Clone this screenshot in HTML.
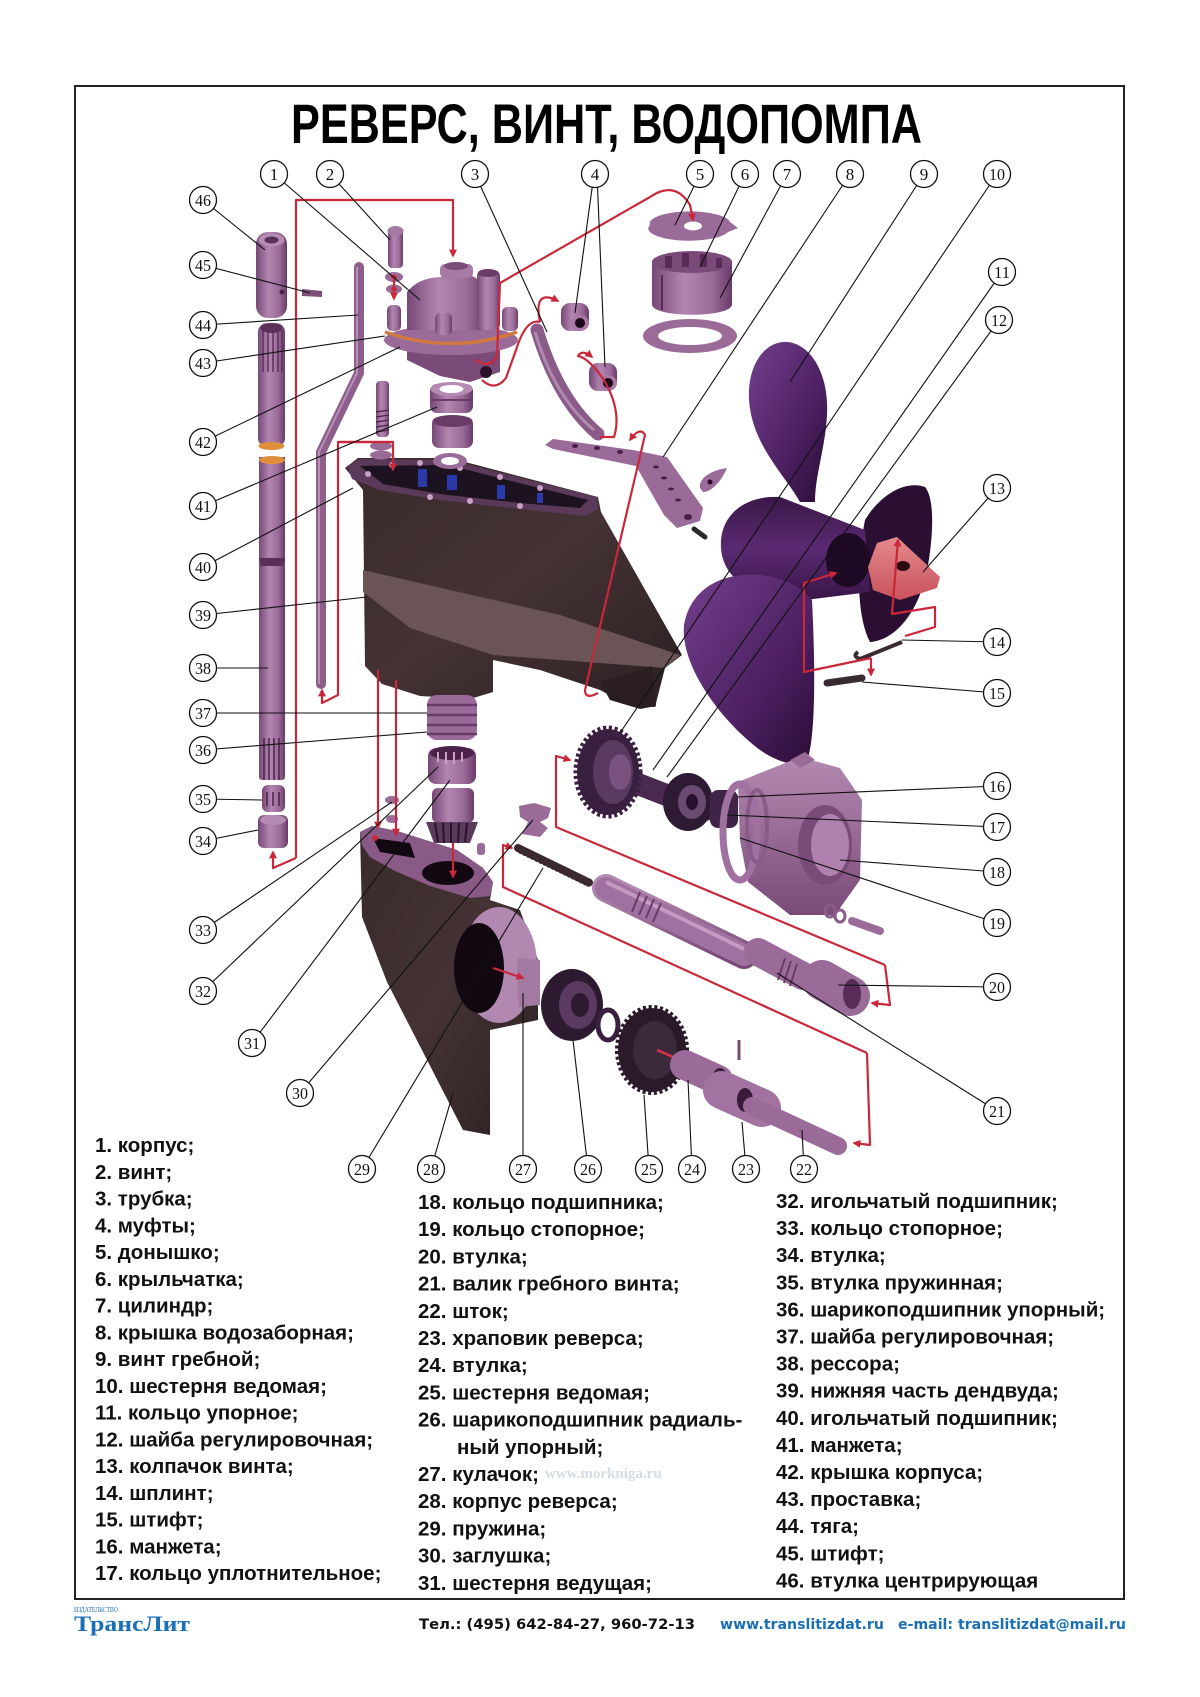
<!DOCTYPE html>
<html><head><meta charset="utf-8">
<style>
html,body{margin:0;padding:0;background:#fff;}
svg{display:block;}
.l{stroke:#111;stroke-width:1.1;fill:none;}
.r{stroke:#c8283a;stroke-width:2.2;fill:none;stroke-linejoin:round;}
.t{font-family:"Liberation Sans",Arial,"Noto Sans CJK SC",sans-serif;font-weight:bold;font-size:20.5px;fill:#111;}
.n{font-family:"Liberation Serif","DejaVu Serif",serif;font-size:17px;fill:#111;text-anchor:middle;}
.c{fill:#fff;stroke:#111;stroke-width:1.3;}
.m{fill:url(#gM);}
</style></head><body>
<svg width="1200" height="1697" viewBox="0 0 1200 1697" xmlns="http://www.w3.org/2000/svg">
<defs>
<marker id="a" viewBox="0 0 10 10" refX="8" refY="5" markerWidth="8" markerHeight="8" markerUnits="userSpaceOnUse" orient="auto"><path d="M0,0 L10,5 L0,10 z" fill="#c8283a"/></marker>
<linearGradient id="gM" x1="0" y1="0" x2="1" y2="0"><stop offset="0" stop-color="#774777"/><stop offset="0.4" stop-color="#b386b1"/><stop offset="0.75" stop-color="#9a6a98"/><stop offset="1" stop-color="#6a3a68"/></linearGradient>
<linearGradient id="gMv" x1="0" y1="0" x2="0" y2="1"><stop offset="0" stop-color="#b38ab1"/><stop offset="1" stop-color="#7a4a78"/></linearGradient>
<linearGradient id="gD" x1="0" y1="0" x2="1" y2="1"><stop offset="0" stop-color="#3a2a2c"/><stop offset="0.5" stop-color="#443234"/><stop offset="1" stop-color="#2c2022"/></linearGradient>
<linearGradient id="gP" x1="0" y1="0" x2="1" y2="1"><stop offset="0" stop-color="#74408e"/><stop offset="0.6" stop-color="#4c2062"/><stop offset="1" stop-color="#2a0c36"/></linearGradient>
<linearGradient id="gP2" x1="0" y1="0" x2="0" y2="1"><stop offset="0" stop-color="#3a1848"/><stop offset="0.5" stop-color="#5a2a72"/><stop offset="1" stop-color="#3a1548"/></linearGradient>
<linearGradient id="gC" x1="0" y1="0" x2="0" y2="1"><stop offset="0" stop-color="#e58a8c"/><stop offset="1" stop-color="#c8525e"/></linearGradient>
</defs>
<rect width="1200" height="1697" fill="#fff"/>
<rect x="75" y="86" width="1049" height="1513" fill="none" stroke="#222" stroke-width="2"/>

<text x="291" y="143" font-family="Liberation Sans, Arial, sans-serif" font-weight="bold" font-size="56" textLength="631" lengthAdjust="spacingAndGlyphs" fill="#000">РЕВЕРС, ВИНТ, ВОДОПОМПА</text>

<!-- ===== PROPELLER ===== -->
<path d="M865,520 C880,495 905,480 925,487 C936,500 933,545 925,580 C915,615 895,640 870,642 C858,620 855,570 865,520 Z" fill="#2a0f33"/>
<path d="M800,502 C785,475 752,445 749,400 C747,365 765,340 788,342 C812,345 829,375 827,415 C825,450 815,475 815,502 Z" fill="url(#gP)"/>
<path d="M780,497 L865,530 L870,592 L805,600 C760,602 723,582 721,548 C719,515 745,495 780,497 Z" fill="url(#gP2)"/>
<path d="M760,575 C720,572 690,590 684,625 C680,665 720,720 760,750 C780,764 800,768 808,758 C816,730 815,660 812,600 C800,585 780,577 760,575 Z" fill="url(#gP)"/>
<ellipse cx="848" cy="560" rx="22" ry="27" fill="#1e0a24"/>
<path d="M877,543 L897,537 L940,577 L937,588 L900,600 L873,590 L868,567 Z" fill="url(#gC)"/>
<ellipse cx="903" cy="566" rx="7" ry="5" fill="#2a0a10"/>
<path d="M858,652 Q852,656 860,659 L902,642" stroke="#3a2a34" stroke-width="4" fill="none"/>
<path d="M827,683 L862,678" stroke="#3a2a34" stroke-width="7" stroke-linecap="round"/>

<!-- ===== HOUSING 39 ===== -->
<path d="M345,468 L358,458 L450,458 L598,497 L601,512 L682,655 L665,668 L655,707 L630,706 L600,690 L540,670 L493,660 L493,692 L470,699 L420,696 L382,684 L365,666 L363,490 Z" fill="url(#gD)"/>
<path d="M363,570 L450,590 L560,615 L680,655 L665,668 L493,655 L410,628 L363,592 Z" fill="#6a5456"/>
<path d="M600,682 L652,666 L656,706 L640,709 L610,700 Z" fill="#2a1e20"/>
<path d="M347,466 L360,459 L450,460 L520,478 L597,497 L598,509 L585,516 L520,509 L440,500 L380,490 L352,479 Z" fill="#5a3a58"/>
<path d="M360,466 L448,465 L515,482 L588,500 L580,508 L520,503 L440,494 L383,484 Z" fill="#1c1220"/>
<rect x="418" y="469" width="9" height="18" fill="#2a3aa8"/>
<rect x="447" y="475" width="10" height="15" fill="#2a3aa8"/>
<rect x="497" y="485" width="8" height="14" fill="#2a3aa8"/>
<rect x="537" y="493" width="6" height="10" fill="#2a3aa8"/>
<g fill="#c9a0c6"><circle cx="368" cy="474" r="3"/><circle cx="392" cy="465" r="3"/><circle cx="420" cy="463" r="3"/><circle cx="460" cy="468" r="3"/><circle cx="500" cy="477" r="3"/><circle cx="540" cy="488" r="3"/><circle cx="430" cy="497" r="3"/><circle cx="470" cy="501" r="3"/><circle cx="520" cy="506" r="3"/></g>

<!-- ===== LEFT COLUMN ===== -->
<rect x="256" y="232" width="31" height="86" rx="12" class="m"/>
<ellipse cx="271.5" cy="240" rx="13" ry="6.5" fill="#b58ab3"/>
<ellipse cx="271.5" cy="240" rx="7" ry="3.5" fill="#5a3058"/>
<circle cx="282" cy="292" r="2.5" fill="#4a2048"/>
<path d="M302,289 L322,291 L322,297 L302,296 Z" fill="#7e4e7c"/>
<path d="M359,267 L359,373 L321,452 L321,684" stroke="#8e5e8c" stroke-width="10" fill="none" stroke-linecap="round" stroke-linejoin="round"/>
<path d="M357,267 L357,373 L319,452 L319,684" stroke="#b590b3" stroke-width="2" fill="none"/>
<rect x="258" y="323" width="27" height="124" rx="9" class="m"/>
<g stroke="#5a3058" stroke-width="1.5"><line x1="263" y1="330" x2="263" y2="372"/><line x1="268" y1="330" x2="268" y2="372"/><line x1="273" y1="330" x2="273" y2="372"/><line x1="278" y1="330" x2="278" y2="372"/><line x1="282" y1="330" x2="282" y2="372"/></g>
<ellipse cx="271.5" cy="328" rx="11" ry="5" fill="#5a3058"/>
<ellipse cx="271.5" cy="446" rx="13" ry="4" fill="#e0903a"/>
<rect x="259" y="457" width="26" height="282" class="m"/>
<ellipse cx="272" cy="460" rx="13" ry="4" fill="#e0903a"/>
<path d="M259,558 L285,558 L283,566 L261,566 Z" fill="#5a3058"/>
<rect x="259" y="737" width="26" height="43" rx="3" class="m"/>
<g stroke="#4a2248" stroke-width="1.5"><line x1="264" y1="738" x2="264" y2="780"/><line x1="269" y1="738" x2="269" y2="780"/><line x1="274" y1="738" x2="274" y2="780"/><line x1="279" y1="738" x2="279" y2="780"/></g>
<rect x="262" y="785" width="23" height="27" rx="6" class="m"/>
<g stroke="#4a2248" stroke-width="1.5"><line x1="267" y1="792" x2="267" y2="806"/><line x1="273" y1="792" x2="273" y2="806"/><line x1="279" y1="792" x2="279" y2="806"/></g>
<rect x="258" y="815" width="30" height="33" rx="6" class="m"/>
<ellipse cx="273" cy="820" rx="13" ry="5" fill="#b58ab3"/>

<!-- ===== PUMP 1 ===== -->
<path d="M407,347 L500,347 L500,372 L470,382 L440,376 L407,360 Z" fill="#7a4a78"/>
<ellipse cx="486" cy="372" rx="6" ry="6" fill="#2a1028"/>
<ellipse cx="451" cy="340" rx="67" ry="15" fill="#9a6a98"/>
<path d="M385,332 Q451,355 517,332" stroke="#d07840" stroke-width="3.5" fill="none"/>
<path d="M407,330 L407,292 Q418,278 440,277 L470,275 Q487,282 487,300 L487,330 Z" fill="url(#gM)"/>
<rect x="440" y="264" width="33" height="14" rx="5" fill="#a57aa3"/>
<ellipse cx="456" cy="266" rx="12" ry="4" fill="#7a4a78"/>
<rect x="477" y="270" width="23" height="60" rx="6" class="m"/>
<ellipse cx="488" cy="273" rx="10" ry="4" fill="#6a3a68"/>
<rect x="502" y="307" width="16" height="24" rx="5" class="m"/>
<rect x="387" y="305" width="14" height="26" rx="5" class="m"/>
<rect x="435" y="313" width="17" height="22" rx="5" class="m"/>
<rect x="388" y="228" width="15" height="40" rx="4" class="m"/>
<ellipse cx="395.5" cy="231" rx="8" ry="5" fill="#a57aa3"/>
<ellipse cx="394" cy="277" rx="9" ry="5" fill="#9a6a98"/><ellipse cx="394" cy="277" rx="3" ry="2" fill="#c8283a"/>
<ellipse cx="394" cy="289" rx="8" ry="4.5" fill="#9a6a98"/><ellipse cx="394" cy="289" rx="3" ry="2" fill="#c8283a"/>
<!-- 41/40 -->
<rect x="430" y="384" width="43" height="29" rx="7" class="m"/>
<ellipse cx="451.5" cy="389" rx="21" ry="7" fill="#b58ab3"/><ellipse cx="451.5" cy="389" rx="12" ry="4" fill="#fff"/>
<line x1="430" y1="400" x2="473" y2="400" stroke="#6a3a68" stroke-width="2"/>
<rect x="432" y="417" width="41" height="31" rx="7" class="m"/>
<ellipse cx="452.5" cy="421" rx="20" ry="6" fill="#6a3a68"/>
<ellipse cx="450" cy="461" rx="17" ry="8" fill="#9a6a98"/><ellipse cx="450" cy="461" rx="9" ry="4" fill="#fff"/>
<rect x="376" y="381" width="13" height="56" rx="4" class="m"/>
<g stroke="#4a2248" stroke-width="1.3"><line x1="376" y1="412" x2="389" y2="410"/><line x1="376" y1="417" x2="389" y2="415"/><line x1="376" y1="422" x2="389" y2="420"/><line x1="376" y1="427" x2="389" y2="425"/><line x1="376" y1="432" x2="389" y2="430"/></g>
<ellipse cx="381" cy="446" rx="11" ry="4.5" fill="#9a6a98"/><ellipse cx="381" cy="455" rx="11" ry="4.5" fill="#9a6a98"/>

<!-- tube 3 & mugs 4 -->
<path d="M537,330 Q558,400 598,434" stroke="#8a5a88" stroke-width="13" fill="none" stroke-linecap="round"/>
<path d="M535,332 Q555,398 594,430" stroke="#b08aae" stroke-width="3" fill="none"/>
<rect x="561" y="303" width="28" height="28" rx="9" class="m"/><ellipse cx="580" cy="323" rx="9" ry="8" fill="#a878a6"/><ellipse cx="580" cy="323" rx="5" ry="5" fill="#1a0a1a"/>
<rect x="589" y="363" width="28" height="28" rx="9" class="m"/><ellipse cx="608" cy="383" rx="9" ry="8" fill="#a878a6"/><ellipse cx="608" cy="383" rx="5" ry="5" fill="#1a0a1a"/>

<!-- 5,6,7 -->
<path d="M650,225 A40,12 0 0,1 730,222 L738,228 L728,232 A40,12 0 0,1 650,225 Z" fill="#9a6a98"/>
<ellipse cx="693" cy="226" rx="9" ry="4.5" fill="#fff"/>
<path d="M652,262 L652,305 C655,318 729,318 732,305 L732,262 Z" fill="url(#gM)"/>
<ellipse cx="692" cy="262" rx="40" ry="11" fill="#7a4a78"/>
<g fill="#5a2a58"><rect x="665" y="256" width="7" height="12"/><rect x="682" y="253" width="7" height="14"/><rect x="700" y="254" width="7" height="13"/><rect x="716" y="258" width="6" height="10"/></g>
<line x1="662" y1="275" x2="662" y2="310" stroke="#5a2a58" stroke-width="2"/>
<ellipse cx="690" cy="336" rx="47" ry="17" fill="#9a6a98"/><ellipse cx="690" cy="336" rx="32" ry="9" fill="#fff"/>

<!-- bracket 8 -->
<path d="M545,445 L553,439 L633,450 L667,457 L703,508 L700,521 L677,528 L664,515 L636,466 L553,449 Z" fill="#9a6a98"/>
<g fill="#4a1e48"><ellipse cx="575" cy="446" rx="3" ry="2"/><ellipse cx="597" cy="448" rx="3" ry="2"/><ellipse cx="620" cy="452" rx="3" ry="2"/><ellipse cx="656" cy="467" rx="3" ry="1.5"/><ellipse cx="664" cy="478" rx="3" ry="1.5"/><ellipse cx="671" cy="489" rx="3" ry="1.5"/><ellipse cx="678" cy="500" rx="3" ry="1.5"/><ellipse cx="688" cy="517" rx="4" ry="3"/></g>
<path d="M700,488 C698,478 712,470 727,468 C722,480 712,492 703,492 Z" fill="#9a6a98"/><circle cx="710" cy="482" r="2.5" fill="#2a0a28"/>
<path d="M694,529 L705,537" stroke="#2a2a2a" stroke-width="5" stroke-linecap="round"/>

<!-- ===== LOWER MIDDLE GEARS ===== -->
<rect x="427" y="695" width="50" height="45" rx="10" fill="#9a6a98"/>
<g stroke="#6a3a68" stroke-width="2.5"><line x1="427" y1="705" x2="477" y2="705"/><line x1="427" y1="715" x2="477" y2="715"/><line x1="427" y1="725" x2="477" y2="725"/><line x1="427" y1="734" x2="477" y2="734"/></g>
<rect x="428" y="748" width="48" height="36" rx="8" class="m"/>
<ellipse cx="452" cy="753" rx="22" ry="7" fill="#4a2248"/>
<g stroke="#c9a0c6" stroke-width="2"><line x1="438" y1="752" x2="438" y2="762"/><line x1="446" y1="752" x2="446" y2="764"/><line x1="454" y1="752" x2="454" y2="764"/><line x1="462" y1="752" x2="462" y2="762"/></g>
<rect x="432" y="788" width="42" height="35" rx="6" class="m"/>
<path d="M426,822 L478,822 L470,843 L434,843 Z" fill="#5a3a5a"/>
<g stroke="#2a1228" stroke-width="2"><line x1="435" y1="823" x2="438" y2="842"/><line x1="443" y1="823" x2="444" y2="843"/><line x1="451" y1="823" x2="451" y2="843"/><line x1="459" y1="823" x2="458" y2="843"/><line x1="467" y1="823" x2="465" y2="842"/></g>
<ellipse cx="392" cy="800" rx="7" ry="4" fill="#9a6a98"/><ellipse cx="392" cy="819" rx="6" ry="4" fill="#9a6a98"/>
<path d="M519,806 L534,803 L551,808 L548,818 L540,822 L548,828 L540,837 L522,834 L528,822 L520,817 Z" fill="#9a6a98"/>
<rect x="477" y="843" width="8" height="12" rx="3" fill="#9a6a98"/>
<path d="M518,848 L590,883" stroke="#3a2a30" stroke-width="8" stroke-dasharray="2.5 2" stroke-linecap="round"/>

<!-- ===== LOWER HOUSING 28 ===== -->
<path d="M360,832 L372,826 L397,831 L457,850 L483,868 L493,882 L490,900 L520,910 L538,960 L538,1020 L490,1030 L490,1135 L463,1130 L387,982 L362,917 Z" fill="url(#gD)"/>
<path d="M360,832 L372,826 L397,831 L457,850 L483,868 L493,882 L490,896 L470,898 L430,886 L395,871 L370,857 L362,845 Z" fill="#8a5a86"/>
<path d="M373,838 L410,843 L415,858 L380,852 Z" fill="#120812"/>
<ellipse cx="448" cy="873" rx="26" ry="12" fill="#120812"/>
<circle cx="375" cy="838" r="3" fill="#c8283a"/>
<ellipse cx="499" cy="965" rx="38" ry="58" fill="#b088b0"/>
<ellipse cx="479" cy="968" rx="25" ry="45" fill="#120812"/>
<path d="M517,957 L540,960 L540,1005 L518,1007 Z" fill="#a27aa2"/>

<!-- ===== LOWER RIGHT ASSEMBLY ===== -->
<path d="M615,775 L705,810" stroke="#4a2a50" stroke-width="22" stroke-linecap="round"/>
<ellipse cx="608" cy="772" rx="31" ry="43" fill="#3a2040" stroke="#3a2040" stroke-width="7" stroke-dasharray="3 2.5"/>
<ellipse cx="613" cy="772" rx="20" ry="32" fill="#5a3a60"/>
<ellipse cx="620" cy="772" rx="11" ry="18" fill="#7a5280"/>
<ellipse cx="688" cy="802" rx="25" ry="29" fill="#2f1a33"/>
<ellipse cx="692" cy="802" rx="14" ry="17" fill="#6a4a70"/>
<ellipse cx="692" cy="802" rx="6" ry="8" fill="#2a1030"/>
<rect x="710" y="790" width="28" height="38" rx="8" fill="#3f2448"/>
<path d="M738,782 L800,757 L840,768 L862,800 L860,880 L835,915 L790,915 L748,882 L740,840 Z" fill="url(#gMv)"/>
<path d="M790,760 L805,752 L815,760 L800,768 Z" fill="#9a6a98"/>
<ellipse cx="825" cy="845" rx="27" ry="40" fill="#7a4a78"/>
<ellipse cx="830" cy="845" rx="19" ry="31" fill="#b080ae"/>
<ellipse cx="740" cy="832" rx="17" ry="48" fill="none" stroke="#a070a0" stroke-width="7"/>
<ellipse cx="757" cy="826" rx="10" ry="36" fill="none" stroke="#8a5a88" stroke-width="4"/>
<ellipse cx="830" cy="911" rx="5" ry="6" fill="none" stroke="#8a5a88" stroke-width="3"/>
<ellipse cx="840" cy="916" rx="5" ry="6" fill="none" stroke="#8a5a88" stroke-width="3"/>
<path d="M852,921 L880,931" stroke="#9a6a98" stroke-width="8" stroke-linecap="round"/>
<!-- shaft 21 -->
<path d="M606,888 L744,955" stroke="url(#gMv)" stroke-width="28" stroke-linecap="round"/>
<path d="M606,888 L744,955" stroke="#a070a0" stroke-width="22" stroke-linecap="round"/>
<path d="M606,882 L744,949" stroke="#c49ac2" stroke-width="4"/>
<g stroke="#6a3a68" stroke-width="2"><line x1="640" y1="892" x2="632" y2="912"/><line x1="647" y1="896" x2="639" y2="915"/><line x1="654" y1="899" x2="646" y2="918"/><line x1="661" y1="903" x2="653" y2="922"/></g>
<path d="M758,952 L803,976" stroke="#9a6a98" stroke-width="28" stroke-linecap="round"/>
<g stroke="#6a3a68" stroke-width="2"><line x1="785" y1="958" x2="778" y2="980"/><line x1="791" y1="961" x2="784" y2="983"/><line x1="797" y1="964" x2="790" y2="986"/></g>
<path d="M822,980 L850,996" stroke="#9a6a98" stroke-width="40" stroke-linecap="round"/>
<ellipse cx="852" cy="994" rx="9" ry="15" fill="#5a2a58"/>
<path d="M520,850 L590,884" stroke="#3a2a30" stroke-width="7" stroke-dasharray="2.5 2"/>
<!-- bearing 26, gear 25 etc -->
<ellipse cx="572" cy="1005" rx="31" ry="36" fill="#2e1a30"/>
<ellipse cx="578" cy="1005" rx="19" ry="24" fill="#5a3a60"/>
<ellipse cx="580" cy="1005" rx="9" ry="12" fill="#2e1a30"/>
<ellipse cx="608" cy="1025" rx="10" ry="15" fill="none" stroke="#3a2040" stroke-width="5"/>
<ellipse cx="652" cy="1050" rx="34" ry="42" fill="#2a1a2a" stroke="#2a1a2a" stroke-width="6" stroke-dasharray="3 2.5"/>
<ellipse cx="655" cy="1050" rx="22" ry="29" fill="#3a2a3a"/>
<path d="M657,1050 L680,1060" stroke="#e03050" stroke-width="2.5"/>
<path d="M685,1065 L718,1080" stroke="#9a6a98" stroke-width="30" stroke-linecap="round"/>
<ellipse cx="720" cy="1080" rx="8" ry="12" fill="#3a1a38"/>
<path d="M722,1090 L762,1108" stroke="#a272a0" stroke-width="38" stroke-linecap="round"/>
<ellipse cx="745" cy="1100" rx="8" ry="12" fill="#3a1a38"/>
<path d="M752,1106 L838,1146" stroke="#9a6a98" stroke-width="18" stroke-linecap="round"/>
<line x1="739" y1="1040" x2="739" y2="1060" stroke="#7a4a78" stroke-width="3"/>

<!-- ===== RED CONNECTORS ===== -->
<path class="r" d="M296,858 L296,200 L453,200 L453,256" marker-end="url(#a)"/>
<path class="r" d="M296,858 L273,868 L273,852" marker-end="url(#a)"/>
<path class="r" d="M394,279 L394,299" marker-end="url(#a)"/>
<path class="r" d="M475,360 Q492,370 497,355 L500,283 L650,197 Q675,180 690,205 L693,220" marker-end="url(#a)"/>
<path class="r" d="M482,380 Q495,392 506,378 L516,350 Q526,318 540,322"/>
<path class="r" d="M540,322 Q533,288 558,301" marker-end="url(#a)"/>
<path class="r" d="M600,437 L614,437 C626,400 592,358 578,356 Q582,349 592,357" marker-end="url(#a)"/>
<path class="r" d="M585,690 Q585,700 598,693"/>
<path class="r" d="M585,690 L645,435 Q640,426 630,440" marker-end="url(#a)"/>
<path class="r" d="M393,442 L338,442 L338,695 L322,703 L322,690" marker-end="url(#a)"/>
<path class="r" d="M338,442 L393,442 L393,470" marker-end="url(#a)"/>
<path class="r" d="M378,670 L378,828" marker-end="url(#a)"/>
<path class="r" d="M396,680 L396,835" marker-end="url(#a)"/>
<path class="r" d="M453,843 L453,877" marker-end="url(#a)"/>
<path class="r" d="M493,968 L523,978" marker-end="url(#a)"/>
<path class="r" d="M885,965 L890,1005 L872,1003" marker-end="url(#a)"/>
<path class="r" d="M885,965 L556,827 L556,756 L570,760" marker-end="url(#a)"/>
<path class="r" d="M867,1053 L503,887 L503,845 L512,848" marker-end="url(#a)"/>
<path class="r" d="M867,1053 L870,1145 L854,1143" marker-end="url(#a)"/>
<path class="r" d="M871,658 L804,672 L804,583 L836,573" marker-end="url(#a)"/>
<path class="r" d="M871,658 L871,675" marker-end="url(#a)"/>
<path class="r" d="M905,636 L935,627 L935,607 L892,614 L898,540" marker-end="url(#a)"/>

<!-- ===== CALLOUT LINES ===== -->
<g class="l">
<line x1="274" y1="174" x2="420" y2="300"/>
<line x1="330" y1="174" x2="390" y2="240"/>
<line x1="475" y1="174" x2="547" y2="332"/>
<line x1="594" y1="174" x2="575" y2="313"/>
<line x1="597" y1="174" x2="605" y2="367"/>
<line x1="700" y1="174" x2="675" y2="225"/>
<line x1="745" y1="174" x2="700" y2="267"/>
<line x1="787" y1="174" x2="720" y2="298"/>
<line x1="850" y1="174" x2="663" y2="457"/>
<line x1="924" y1="174" x2="790" y2="382"/>
<line x1="997" y1="174" x2="620" y2="733"/>
<line x1="1002" y1="272" x2="653" y2="770"/>
<line x1="999" y1="320" x2="667" y2="777"/>
<line x1="997" y1="488" x2="923" y2="572"/>
<line x1="997" y1="642" x2="902" y2="640"/>
<line x1="997" y1="693" x2="862" y2="682"/>
<line x1="997" y1="786" x2="737" y2="797"/>
<line x1="997" y1="827" x2="727" y2="815"/>
<line x1="997" y1="872" x2="840" y2="860"/>
<line x1="997" y1="923" x2="740" y2="838"/>
<line x1="997" y1="987" x2="838" y2="985"/>
<line x1="997" y1="1111" x2="777" y2="973"/>
<line x1="804" y1="1169" x2="802" y2="1130"/>
<line x1="746" y1="1169" x2="742" y2="1122"/>
<line x1="692" y1="1169" x2="688" y2="1080"/>
<line x1="649" y1="1169" x2="644" y2="1095"/>
<line x1="588" y1="1169" x2="573" y2="1040"/>
<line x1="523" y1="1169" x2="523" y2="993"/>
<line x1="431" y1="1169" x2="453" y2="1093"/>
<line x1="362" y1="1169" x2="543" y2="868"/>
<line x1="300" y1="1093" x2="533" y2="820"/>
<line x1="252" y1="1043" x2="450" y2="780"/>
<line x1="203" y1="991" x2="438" y2="767"/>
<line x1="203" y1="930" x2="392" y2="802"/>
<line x1="203" y1="841" x2="258" y2="830"/>
<line x1="203" y1="799" x2="262" y2="800"/>
<line x1="203" y1="750" x2="427" y2="732"/>
<line x1="203" y1="713" x2="427" y2="713"/>
<line x1="203" y1="668" x2="268" y2="668"/>
<line x1="203" y1="615" x2="367" y2="597"/>
<line x1="203" y1="567" x2="353" y2="488"/>
<line x1="203" y1="506" x2="437" y2="407"/>
<line x1="203" y1="442" x2="400" y2="347"/>
<line x1="203" y1="363" x2="385" y2="336"/>
<line x1="203" y1="325" x2="358" y2="315"/>
<line x1="203" y1="265" x2="310" y2="293"/>
<line x1="203" y1="200" x2="265" y2="250"/>
</g>

<!-- ===== CIRCLES ===== -->
<g>
<circle class="c" cx="274" cy="174" r="13.5"/><text class="n" x="274" y="180">1</text>
<circle class="c" cx="330" cy="174" r="13.5"/><text class="n" x="330" y="180">2</text>
<circle class="c" cx="475" cy="174" r="13.5"/><text class="n" x="475" y="180">3</text>
<circle class="c" cx="595" cy="174" r="13.5"/><text class="n" x="595" y="180">4</text>
<circle class="c" cx="700" cy="174" r="13.5"/><text class="n" x="700" y="180">5</text>
<circle class="c" cx="745" cy="174" r="13.5"/><text class="n" x="745" y="180">6</text>
<circle class="c" cx="787" cy="174" r="13.5"/><text class="n" x="787" y="180">7</text>
<circle class="c" cx="850" cy="174" r="13.5"/><text class="n" x="850" y="180">8</text>
<circle class="c" cx="924" cy="174" r="13.5"/><text class="n" x="924" y="180">9</text>
<circle class="c" cx="997" cy="174" r="13.5"/><text class="n" x="997" y="180" textLength="16" lengthAdjust="spacingAndGlyphs">10</text>
<circle class="c" cx="1002" cy="272" r="13.5"/><text class="n" x="1002" y="278" textLength="16" lengthAdjust="spacingAndGlyphs">11</text>
<circle class="c" cx="999" cy="320" r="13.5"/><text class="n" x="999" y="326" textLength="16" lengthAdjust="spacingAndGlyphs">12</text>
<circle class="c" cx="997" cy="488" r="13.5"/><text class="n" x="997" y="494" textLength="16" lengthAdjust="spacingAndGlyphs">13</text>
<circle class="c" cx="997" cy="642" r="13.5"/><text class="n" x="997" y="648" textLength="16" lengthAdjust="spacingAndGlyphs">14</text>
<circle class="c" cx="997" cy="693" r="13.5"/><text class="n" x="997" y="699" textLength="16" lengthAdjust="spacingAndGlyphs">15</text>
<circle class="c" cx="997" cy="786" r="13.5"/><text class="n" x="997" y="792" textLength="16" lengthAdjust="spacingAndGlyphs">16</text>
<circle class="c" cx="997" cy="827" r="13.5"/><text class="n" x="997" y="833" textLength="16" lengthAdjust="spacingAndGlyphs">17</text>
<circle class="c" cx="997" cy="872" r="13.5"/><text class="n" x="997" y="878" textLength="16" lengthAdjust="spacingAndGlyphs">18</text>
<circle class="c" cx="997" cy="923" r="13.5"/><text class="n" x="997" y="929" textLength="16" lengthAdjust="spacingAndGlyphs">19</text>
<circle class="c" cx="997" cy="987" r="13.5"/><text class="n" x="997" y="993" textLength="16" lengthAdjust="spacingAndGlyphs">20</text>
<circle class="c" cx="997" cy="1111" r="13.5"/><text class="n" x="997" y="1117" textLength="16" lengthAdjust="spacingAndGlyphs">21</text>
<circle class="c" cx="804" cy="1169" r="13.5"/><text class="n" x="804" y="1175" textLength="16" lengthAdjust="spacingAndGlyphs">22</text>
<circle class="c" cx="746" cy="1169" r="13.5"/><text class="n" x="746" y="1175" textLength="16" lengthAdjust="spacingAndGlyphs">23</text>
<circle class="c" cx="692" cy="1169" r="13.5"/><text class="n" x="692" y="1175" textLength="16" lengthAdjust="spacingAndGlyphs">24</text>
<circle class="c" cx="649" cy="1169" r="13.5"/><text class="n" x="649" y="1175" textLength="16" lengthAdjust="spacingAndGlyphs">25</text>
<circle class="c" cx="588" cy="1169" r="13.5"/><text class="n" x="588" y="1175" textLength="16" lengthAdjust="spacingAndGlyphs">26</text>
<circle class="c" cx="523" cy="1169" r="13.5"/><text class="n" x="523" y="1175" textLength="16" lengthAdjust="spacingAndGlyphs">27</text>
<circle class="c" cx="431" cy="1169" r="13.5"/><text class="n" x="431" y="1175" textLength="16" lengthAdjust="spacingAndGlyphs">28</text>
<circle class="c" cx="362" cy="1169" r="13.5"/><text class="n" x="362" y="1175" textLength="16" lengthAdjust="spacingAndGlyphs">29</text>
<circle class="c" cx="300" cy="1093" r="13.5"/><text class="n" x="300" y="1099" textLength="16" lengthAdjust="spacingAndGlyphs">30</text>
<circle class="c" cx="252" cy="1043" r="13.5"/><text class="n" x="252" y="1049" textLength="16" lengthAdjust="spacingAndGlyphs">31</text>
<circle class="c" cx="203" cy="991" r="13.5"/><text class="n" x="203" y="997" textLength="16" lengthAdjust="spacingAndGlyphs">32</text>
<circle class="c" cx="203" cy="930" r="13.5"/><text class="n" x="203" y="936" textLength="16" lengthAdjust="spacingAndGlyphs">33</text>
<circle class="c" cx="203" cy="841" r="13.5"/><text class="n" x="203" y="847" textLength="16" lengthAdjust="spacingAndGlyphs">34</text>
<circle class="c" cx="203" cy="799" r="13.5"/><text class="n" x="203" y="805" textLength="16" lengthAdjust="spacingAndGlyphs">35</text>
<circle class="c" cx="203" cy="750" r="13.5"/><text class="n" x="203" y="756" textLength="16" lengthAdjust="spacingAndGlyphs">36</text>
<circle class="c" cx="203" cy="713" r="13.5"/><text class="n" x="203" y="719" textLength="16" lengthAdjust="spacingAndGlyphs">37</text>
<circle class="c" cx="203" cy="668" r="13.5"/><text class="n" x="203" y="674" textLength="16" lengthAdjust="spacingAndGlyphs">38</text>
<circle class="c" cx="203" cy="615" r="13.5"/><text class="n" x="203" y="621" textLength="16" lengthAdjust="spacingAndGlyphs">39</text>
<circle class="c" cx="203" cy="567" r="13.5"/><text class="n" x="203" y="573" textLength="16" lengthAdjust="spacingAndGlyphs">40</text>
<circle class="c" cx="203" cy="506" r="13.5"/><text class="n" x="203" y="512" textLength="16" lengthAdjust="spacingAndGlyphs">41</text>
<circle class="c" cx="203" cy="442" r="13.5"/><text class="n" x="203" y="448" textLength="16" lengthAdjust="spacingAndGlyphs">42</text>
<circle class="c" cx="203" cy="363" r="13.5"/><text class="n" x="203" y="369" textLength="16" lengthAdjust="spacingAndGlyphs">43</text>
<circle class="c" cx="203" cy="325" r="13.5"/><text class="n" x="203" y="331" textLength="16" lengthAdjust="spacingAndGlyphs">44</text>
<circle class="c" cx="203" cy="265" r="13.5"/><text class="n" x="203" y="271" textLength="16" lengthAdjust="spacingAndGlyphs">45</text>
<circle class="c" cx="203" cy="200" r="13.5"/><text class="n" x="203" y="206" textLength="16" lengthAdjust="spacingAndGlyphs">46</text>
</g>

<!-- ===== LEGEND ===== -->
<g class="t">
<text x="95" y="1152">1. корпус;</text>
<text x="95" y="1178.8">2. винт;</text>
<text x="95" y="1205.5">3. трубка;</text>
<text x="95" y="1232.3">4. муфты;</text>
<text x="95" y="1259">5. донышко;</text>
<text x="95" y="1285.8">6. крыльчатка;</text>
<text x="95" y="1312.5">7. цилиндр;</text>
<text x="95" y="1339.3">8. крышка водозаборная;</text>
<text x="95" y="1366">9. винт гребной;</text>
<text x="95" y="1392.8">10. шестерня ведомая;</text>
<text x="95" y="1419.5">11. кольцо упорное;</text>
<text x="95" y="1446.3">12. шайба регулировочная;</text>
<text x="95" y="1473">13. колпачок винта;</text>
<text x="95" y="1499.8">14. шплинт;</text>
<text x="95" y="1526.5">15. штифт;</text>
<text x="95" y="1553.3">16. манжета;</text>
<text x="95" y="1580">17. кольцо уплотнительное;</text>

<text x="418" y="1209">18. кольцо подшипника;</text>
<text x="418" y="1236.2">19. кольцо стопорное;</text>
<text x="418" y="1263.4">20. втулка;</text>
<text x="418" y="1290.6">21. валик гребного винта;</text>
<text x="418" y="1317.8">22. шток;</text>
<text x="418" y="1345">23. храповик реверса;</text>
<text x="418" y="1372.2">24. втулка;</text>
<text x="418" y="1399.4">25. шестерня ведомая;</text>
<text x="418" y="1426.6">26. шарикоподшипник радиаль-</text>
<text x="457" y="1453.8">ный упорный;</text>
<text x="418" y="1481">27. кулачок;</text>
<text x="418" y="1508.2">28. корпус реверса;</text>
<text x="418" y="1535.4">29. пружина;</text>
<text x="418" y="1562.6">30. заглушка;</text>
<text x="418" y="1589.8">31. шестерня ведущая;</text>

<text x="776" y="1208">32. игольчатый подшипник;</text>
<text x="776" y="1235.1">33. кольцо стопорное;</text>
<text x="776" y="1262.2">34. втулка;</text>
<text x="776" y="1289.3">35. втулка пружинная;</text>
<text x="776" y="1316.4">36. шарикоподшипник упорный;</text>
<text x="776" y="1343.5">37. шайба регулировочная;</text>
<text x="776" y="1370.6">38. рессора;</text>
<text x="776" y="1397.7">39. нижняя часть дендвуда;</text>
<text x="776" y="1424.8">40. игольчатый подшипник;</text>
<text x="776" y="1451.9">41. манжета;</text>
<text x="776" y="1479">42. крышка корпуса;</text>
<text x="776" y="1506.1">43. проставка;</text>
<text x="776" y="1533.2">44. тяга;</text>
<text x="776" y="1560.3">45. штифт;</text>
<text x="776" y="1587.4">46. втулка центрирующая</text>
</g>
<text x="545" y="1478" font-family="Liberation Serif, serif" font-weight="bold" font-size="15" fill="#c8d4e0" opacity="0.8">www.morkniga.ru</text>

<!-- ===== FOOTER ===== -->
<text x="74" y="1612" font-family="Liberation Serif, serif" font-size="7" fill="#1a6fb5" textLength="44" lengthAdjust="spacingAndGlyphs">ИЗДАТЕЛЬСТВО</text>
<text x="74" y="1631" font-family="Liberation Serif, serif" font-weight="bold" font-size="22" fill="#1a6fb5" textLength="116" lengthAdjust="spacingAndGlyphs">ТрансЛит</text>
<text x="419" y="1629" font-family="DejaVu Sans, Liberation Sans, sans-serif" font-weight="bold" font-size="14" fill="#111" textLength="276" lengthAdjust="spacingAndGlyphs">Тел.: (495) 642-84-27, 960-72-13</text>
<text x="720" y="1629" font-family="DejaVu Sans, Liberation Sans, sans-serif" font-weight="bold" font-size="14" fill="#1a6fb5" textLength="164" lengthAdjust="spacingAndGlyphs">www.translitizdat.ru</text>
<text x="898" y="1629" font-family="DejaVu Sans, Liberation Sans, sans-serif" font-weight="bold" font-size="14" fill="#1a6fb5" textLength="228" lengthAdjust="spacingAndGlyphs">e-mail: translitizdat@mail.ru</text>
</svg>
</body></html>
